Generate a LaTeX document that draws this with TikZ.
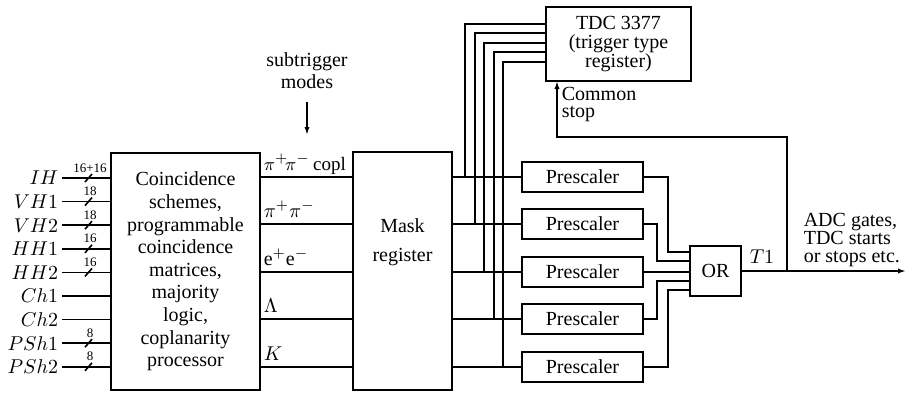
\documentclass[tikz,border=0pt]{standalone}
\usepackage{fontspec}
\setmainfont{Liberation Serif}
\usetikzlibrary{arrows.meta,calc}
\begin{document}
\begin{tikzpicture}[x=0.5pt,y=-0.5pt, line width=0.8pt,
  box/.style={draw, line width=0.9pt, inner sep=0pt},
  lbl/.style={inner sep=0pt, font=\fontsize{10}{12}\selectfont},
  num/.style={inner sep=0pt, font=\fontsize{6.5}{7}\selectfont, anchor=base},
  arr/.style={-{Latex[length=4pt,width=2.6pt]}}]
\useasboundingbox (0,0) rectangle (907,392);

% main boxes
\node[box, minimum width=74.5pt, minimum height=118.5pt, align=center,
      font=\fontsize{10}{11.3}\selectfont] (coinc) at (185.5,271.5)
  {Coincidence\\schemes,\\programmable\\coincidence\\matrices,\\majority\\logic,\\coplanarity\\processor};
\node[box, minimum width=49.5pt, minimum height=119pt] (mask) at (402.5,271) {};
\node[lbl, align=center, font=\fontsize{10}{14.5}\selectfont] (masktxt) at (402.5,242) {Mask\\register};

\node[box, minimum width=72.5pt, minimum height=37pt, align=center,
      font=\fontsize{10}{9.5}\selectfont] (tdc) at (618.5,44) {TDC 3377\\(trigger type\\register)};
\node[box, minimum width=25.5pt, minimum height=25pt, font=\fontsize{10}{12}\selectfont] (or) at (715.5,271) {OR};

% inputs
\foreach \lab [count=\i from 0] in {IH, VH1, VH2, HH1, HH2, Ch1, Ch2, PSh1, PSh2} {
  \node[lbl, anchor=east] (in\i) at (59,178+23.6*\i) {$\lab$};
  \draw ([xshift=1.5pt]in\i.east) coordinate (s\i) -- (s\i -| coinc.west);
}
\foreach \i/\n in {0/16+16, 1/18, 2/18, 3/16, 4/16, 7/8, 8/8} {
  \draw (85,182+23.6*\i) -- ++(7,-8);
  \node[num] (n\i) at (90,172+23.6*\i) {\n};
}

% subtrigger modes
\node[lbl, align=center, font=\fontsize{10}{11}\selectfont, anchor=north] (sub) at (307,52) {subtrigger\\modes};
\coordinate (subend) at (307,135);
\draw[arr] ([yshift=-6pt]sub.south) -- (subend);

% mode lines, prescalers and bus
\foreach \y/\m/\jx/\ty [count=\i] in {177/{{\fontsize{9.5}{11}\selectfont$\pi^+\!\pi^-$\,copl}}/465/24, 224/{$\pi^+\pi^-$}/475/33,
    272/{e$^+$e$^-$}/484/43, 319/{$\Lambda$}/494/52, 367/{$K$}/503/62} {
  \coordinate (m\i) at (coinc.east |- 0,\y);
  \draw (m\i) -- (m\i -| mask.west);
  \node[lbl, anchor=base west] (ml\i) at (263,\y-7) {\m};
  \node[box, minimum width=60.5pt, minimum height=15pt, font=\fontsize{10}{12}\selectfont] (p\i) at (582.5,\y) {Prescaler};
  \draw (mask.east |- p\i.west) -- (p\i.west);
  \coordinate (j\i) at (\jx,\y);
  \draw (j\i) |- (tdc.west |- 0,\ty);
}

% prescalers to OR
\draw (p1.east) -| (668,252) -- (or.west |- 0,252);
\draw (p2.east) -| (657,261) -- (or.west |- 0,261);
\draw (p3.east) -- (p3.east -| or.west);
\draw (p4.east) -| (657,281) -- (or.west |- 0,281);
\draw (p5.east) -| (668,290) -- (or.west |- 0,290);

% output and common stop
\coordinate (outend) at (906,271);
\draw[arr] (or.east) -- (outend);
\coordinate (cs) at (787,271);
\coordinate (tdcstop) at (557,81);
\draw[arr] (cs) |- (557,137) -- (tdcstop);

\node[lbl, anchor=base] (t1) at (762,263) {$T1$};
\node[lbl, anchor=north west, align=left, font=\fontsize{10}{9}\selectfont] (adc) at (803,212) {ADC gates,\\TDC starts\\or stops etc.};
\node[lbl, anchor=north west, align=left, font=\fontsize{10}{8.7}\selectfont] (cstop) at (561,86) {Common\\stop};
\end{tikzpicture}
\end{document}
